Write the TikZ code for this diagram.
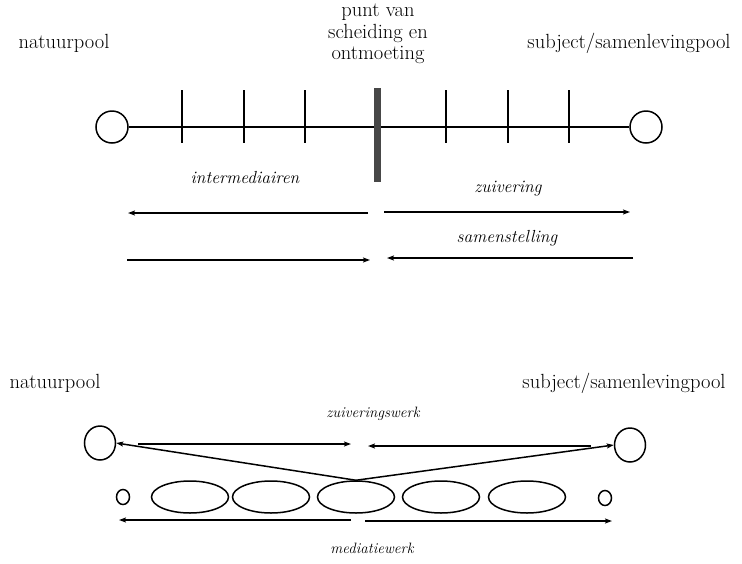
\documentclass[tikz,border=0pt]{standalone}
\usetikzlibrary{arrows.meta,shapes.geometric}
\begin{document}
\begin{tikzpicture}[x=1pt,y=-1pt,line width=1.5pt,
  tip/.tip={Stealth[length=7pt,width=5pt,inset=1.5pt]},
  pole/.style={draw,circle,minimum size=32pt,inner sep=0pt},
  bpole/.style={draw,ellipse,minimum width=31pt,minimum height=34pt,inner sep=0pt},
  dot/.style={draw,ellipse,minimum width=13pt,minimum height=15pt,inner sep=0pt},
  link/.style={draw,ellipse,minimum width=77pt,minimum height=32pt,inner sep=0pt},
  rom/.style={font=\fontsize{20.5}{24}\selectfont,inner sep=0pt},
  itl/.style={font=\fontsize{17.5}{21}\selectfont\itshape,inner sep=0pt},
  itls/.style={font=\fontsize{15}{18}\selectfont\itshape,inner sep=0pt}]
\useasboundingbox (0,0) rectangle (742,563);

% --- upper scheme: the line between the two poles ---
\node[rom] (t1) at (64,43) {natuurpool};
\node[rom] (t2) at (629,43) {subject/samenlevingpool};
\node[rom,align=center,font=\fontsize{20.5}{21.5}\selectfont] (t3) at (378,34)
  {punt van\\scheiding en\\ontmoeting};

\node[pole] (nL) at (112,127) {};
\node[pole] (sR) at (646,127) {};
\draw (nL) -- (sR);
\foreach \x in {182,244,305,446,508,569}
  \draw (\x,90) -- (\x,143);
\fill[black!72] (373.5,88) rectangle (380.5,182);

\node[itl] (i1) at (245,178) {intermediairen};
\node[itl] (i2) at (508,189) {zuivering};
\node[itl] (i3) at (507,238) {samenstelling};

\coordinate (a1) at (368,213); \coordinate (a2) at (128,213);
\coordinate (b1) at (384,212); \coordinate (b2) at (630,212);
\coordinate (c1) at (127,260); \coordinate (c2) at (370,260);
\coordinate (d1) at (633,258); \coordinate (d2) at (387,258);
\draw[-tip] (a1) -- (a2);
\draw[-tip] (b1) -- (b2);
\draw[-tip] (c1) -- (c2);
\draw[-tip] (d1) -- (d2);

% --- lower scheme: purification and mediation work ---
\node[rom] (u1) at (55,383) {natuurpool};
\node[rom] (u2) at (624,383) {subject/samenlevingpool};
\node[itls] (w1) at (373,414) {zuiveringswerk};
\node[itls] (w2) at (372,548) {mediatiewerk};

\node[bpole] (bL) at (100,443) {};
\node[bpole] (bR) at (630,445) {};
\node[dot] (s1) at (123,497) {};
\node[dot] (s2) at (605,498) {};
\node[link] (e1) at (190,497) {};
\node[link] (e2) at (271,497) {};
\node[link] (e3) at (356,497) {};
\node[link] (e4) at (441,497) {};
\node[link] (e5) at (527,497) {};

\draw[-tip] (e3.north) -- (bL.east);
\draw[-tip] (e3.north) -- (bR.west);

\coordinate (f1) at (138,444); \coordinate (f2) at (351,444);
\coordinate (g1) at (591,446); \coordinate (g2) at (368,446);
\draw[-tip] (f1) -- (f2);
\draw[-tip] (g1) -- (g2);

\coordinate (h1) at (351,520); \coordinate (h2) at (119,520);
\coordinate (k1) at (365,521); \coordinate (k2) at (612,521);
\draw[-tip] (h1) -- (h2);
\draw[-tip] (k1) -- (k2);
\end{tikzpicture}
\end{document}
